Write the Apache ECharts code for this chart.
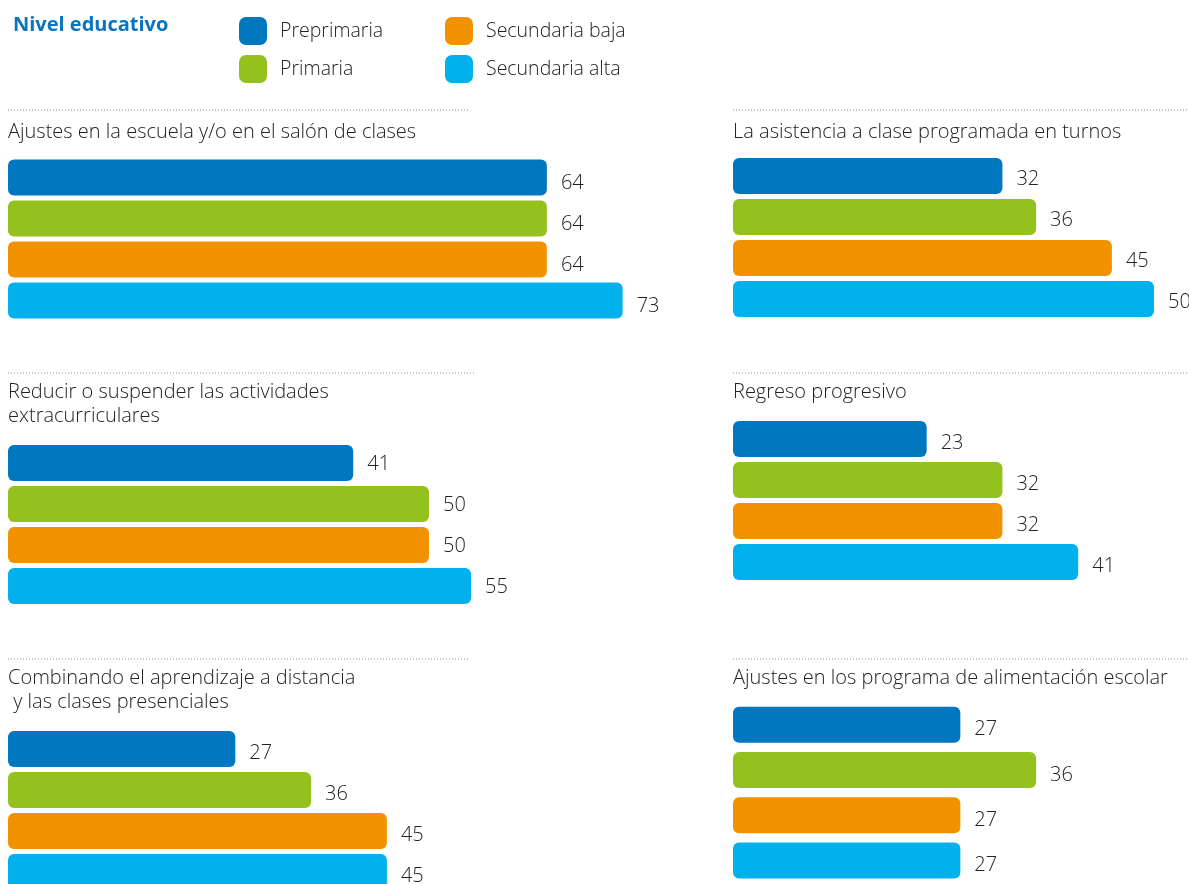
<!DOCTYPE html>
<html><head><meta charset="utf-8">
<script src="https://cdn.jsdelivr.net/npm/echarts@6/dist/echarts.min.js"></script>
<style>html,body{margin:0;padding:0;background:#fff}#c{width:1189px;height:884px}</style>
</head><body><div id="c"></div>
<script>
// ---- data ----
const levels = ['Preprimaria', 'Primaria', 'Secundaria baja', 'Secundaria alta'];
const legendTitle = 'Nivel educativo';
const panelTitles = [
  'Ajustes en la escuela y/o en el salón de clases',
  'La asistencia a clase programada en turnos',
  'Reducir o suspender las actividades\nextracurriculares',
  'Regreso progresivo',
  'Combinando el aprendizaje a distancia\n y las clases presenciales',
  'Ajustes en los programa de alimentación escolar'
];
const ajustesEscuela = [64, 64, 64, 73];
const asistenciaTurnos = [32, 36, 45, 50];
const reducirExtra = [41, 50, 50, 55];
const regresoProgresivo = [23, 32, 32, 41];
const combinandoDistancia = [27, 36, 45, 45];
const ajustesAlimentacion = [27, 36, 27, 27];
const panelValues = [ajustesEscuela, asistenciaTurnos, reducirExtra, regresoProgresivo, combinandoDistancia, ajustesAlimentacion];

// ---- styles / layout ----
const levelColors = ['#0077be', '#95c11f', '#f39200', '#00b1eb'];
const FONT = '"Open Sans", "Noto Sans", sans-serif';
const PX_PER_UNIT = 8.42;
// top = centre of first bar, pitch = distance between bar centres
const layout = [
  {x: 8,   xmax: 80, top: 177.5, pitch: 41,   labelDy: 6,   titleTop: 120, lineY: 110, lineX2: 470},
  {x: 733, xmax: 54, top: 176,   pitch: 41,   labelDy: 3,   titleTop: 120, lineY: 110, lineX2: 1189},
  {x: 8,   xmax: 80, top: 463,   pitch: 41,   labelDy: 1.5, titleTop: 380, lineY: 373, lineX2: 474},
  {x: 733, xmax: 54, top: 439,   pitch: 41,   labelDy: 4.5, titleTop: 380, lineY: 373, lineX2: 1189},
  {x: 8,   xmax: 80, top: 749,   pitch: 41,   labelDy: 4,   titleTop: 666, lineY: 659, lineX2: 470},
  {x: 733, xmax: 54, top: 724.7, pitch: 45.3, labelDy: 5,   titleTop: 666, lineY: 659, lineX2: 1189}
];

const grids = [], xAxes = [], yAxes = [], series = [], titles = [], graphics = [];
titles.push({text: legendTitle, left: 13, top: 15, padding: 0,
  textStyle: {fontFamily: FONT, fontSize: 20, fontWeight: 'bold', color: '#0a74bd'}});

layout.forEach((L, p) => {
  grids.push({left: L.x, top: L.top, width: L.xmax * PX_PER_UNIT, height: L.pitch * 3});
  xAxes.push({type: 'value', gridIndex: p, min: 0, max: L.xmax, show: false});
  yAxes.push({type: 'category', gridIndex: p, data: levels, inverse: true, boundaryGap: false, show: false});
  series.push({
    type: 'bar', name: 'valores', xAxisIndex: p, yAxisIndex: p,
    barWidth: 36, clip: false,
    data: panelValues[p].map((v, i) => ({value: v, itemStyle: {color: levelColors[i]}})),
    itemStyle: {borderRadius: 6},
    label: {show: true, position: 'right', distance: 14, offset: [0, L.labelDy],
      fontFamily: FONT, fontSize: 20, fontWeight: 300, color: '#222'},
    silent: true, animation: false
  });
  titles.push({text: panelTitles[p], left: L.x, top: L.titleTop, padding: 0,
    textStyle: {fontFamily: FONT, fontSize: 20, fontWeight: 300, color: '#222', lineHeight: 24}});
  graphics.push({type: 'line', shape: {x1: L.x, y1: L.lineY, x2: L.lineX2, y2: L.lineY},
    style: {stroke: '#8a8a8a', lineWidth: 1, lineDash: [1, 2]}});
});

// legend-only series (line type, no data, so bar layout is unaffected)
levels.forEach((lv, i) => {
  series.push({type: 'line', name: lv, xAxisIndex: 0, yAxisIndex: 0, data: [],
    itemStyle: {color: levelColors[i]}, lineStyle: {color: levelColors[i]}});
});

const legendCommon = {orient: 'vertical', top: 17, padding: 0, itemWidth: 28, itemHeight: 28, itemGap: 10,
  icon: 'roundRect', selectedMode: false,
  textStyle: {fontFamily: FONT, fontSize: 19.5, fontWeight: 300, color: '#222', padding: [3, 0, 0, 8]}};

const chart = echarts.init(document.getElementById('c'));
chart.setOption({
  animation: false,
  title: titles,
  legend: [
    Object.assign({data: levels.slice(0, 2), left: 239}, legendCommon),
    Object.assign({data: levels.slice(2, 4), left: 445}, legendCommon)
  ],
  grid: grids, xAxis: xAxes, yAxis: yAxes, series: series,
  graphic: graphics
});
</script></body></html>
